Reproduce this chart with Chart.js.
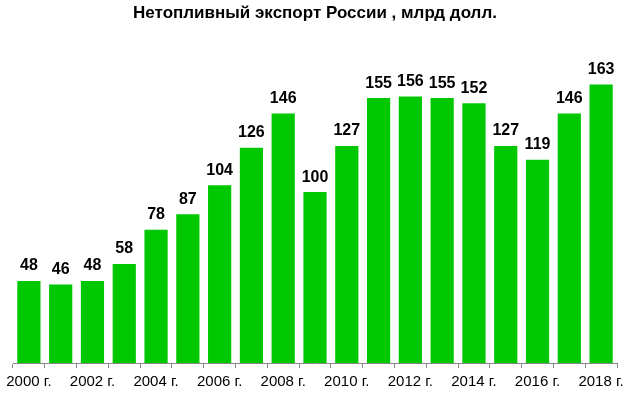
<!DOCTYPE html>
<html>
<head>
<meta charset="utf-8">
<script src="https://cdn.jsdelivr.net/npm/chart.js@4/dist/chart.umd.min.js"></script>
<style>
  html, body { margin: 0; padding: 0; background: #fff; }
  #wrap { width: 633px; height: 398px; }
</style>
</head>
<body>
<div id="wrap"><canvas id="myBarChart"></canvas></div>
<script>
const years = ['2000', '2001', '2002', '2003', '2004', '2005', '2006', '2007', '2008', '2009',
               '2010', '2011', '2012', '2013', '2014', '2015', '2016', '2017', '2018'];
const exportValues = [48, 46, 48, 58, 78, 87, 104, 126, 146, 100,
                      127, 155, 156, 155, 152, 127, 119, 146, 163];
const titleText = 'Нетопливный экспорт России , млрд долл.';

// value labels above each bar
const barLabels = {
  id: 'barLabels',
  afterDatasetsDraw(chart) {
    const ctx = chart.ctx;
    const meta = chart.getDatasetMeta(0);
    ctx.save();
    ctx.font = 'bold 16px "Liberation Sans", Arial, sans-serif';
    ctx.fillStyle = '#000';
    ctx.textAlign = 'center';
    ctx.textBaseline = 'bottom';
    meta.data.forEach((bar, i) => {
      ctx.fillText(exportValues[i], bar.x, bar.y - 7);
    });
    ctx.restore();
  }
};

const barCtx = document.getElementById('myBarChart').getContext('2d');

const myBarChart = new Chart(barCtx, {
  type: 'bar',
  data: {
    labels: years,
    datasets: [{
      label: 'млрд долл.',
      backgroundColor: '#00c800',
      borderWidth: 0,
      data: exportValues,
      categoryPercentage: 1,
      barPercentage: 0.73
    }]
  },
  options: {
    responsive: true,
    maintainAspectRatio: false,
    animation: false,
    layout: {
      padding: { top: 0, left: 13, right: 16, bottom: 2 }
    },
    scales: {
      x: {
        grid: {
          display: true,
          drawOnChartArea: false,
          drawTicks: true,
          tickLength: 5,
          color: '#888'
        },
        border: { display: true, color: '#888' },
        ticks: {
          autoSkip: false,
          maxRotation: 0,
          padding: 5,
          color: '#000',
          font: { family: '"Liberation Sans", Arial, sans-serif', size: 15 },
          callback: function(value, index) {
            return index % 2 === 0 ? years[index] + ' г.' : '';
          }
        }
      },
      y: {
        display: false,
        min: 0,
        max: 180
      }
    },
    plugins: {
      legend: { display: false },
      tooltip: { enabled: false },
      title: {
        display: true,
        text: titleText,
        color: '#000',
        font: { family: '"Liberation Sans", Arial, sans-serif', size: 17, weight: 'bold' },
        padding: { top: 3, bottom: 32 }
      }
    }
  },
  plugins: [barLabels]
});
</script>
</body>
</html>
